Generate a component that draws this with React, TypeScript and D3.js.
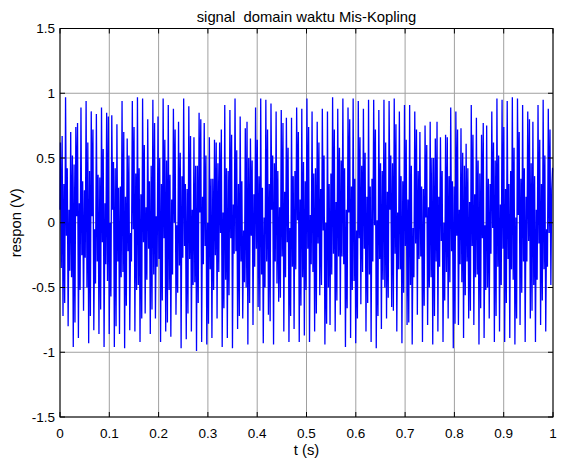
import React from "react";
import * as d3 from "d3";

const W = 562;
const H = 459;

const titleText = "signal  domain waktu Mis-Kopling";
const xLabelText = "t (s)";
const yLabelText = "respon (V)";

const xTicks = [0, 0.1, 0.2, 0.3, 0.4, 0.5, 0.6, 0.7, 0.8, 0.9, 1];
const xTickLabels = ["0", "0.1", "0.2", "0.3", "0.4", "0.5", "0.6", "0.7", "0.8", "0.9", "1"];
const yTicks = [-1.5, -1, -0.5, 0, 0.5, 1, 1.5];
const yTickLabels = ["-1.5", "-1", "-0.5", "0", "0.5", "1", "1.5"];

// estimated local maxima of each oscillation cycle (V)
const peaks = [
  0.62, 0.97, 0.70, 0.74, 0.89, 0.94, 0.86, 0.84, 0.89, 0.85, 0.83, 0.76, 0.94, 0.65, 0.94, 0.97,
  0.96, 0.80, 0.95, 0.82, 0.96, 0.91, 0.88, 0.78, 0.96, 0.90, 0.66, 0.85, 0.77, 0.66, 0.64, 0.62,
  0.91, 0.87, 0.96, 0.82, 0.73, 0.65, 0.89, 0.96, 0.95, 0.92, 0.86, 0.87, 0.81, 0.81, 0.89, 0.88,
  0.96, 0.86, 0.78, 0.88, 0.86, 0.97, 0.88, 0.96, 0.89, 0.96, 0.94, 0.88, 0.95, 0.95, 0.87, 0.95,
  0.94, 0.96, 0.86, 0.91, 0.91, 0.86, 0.70, 0.75, 0.78, 0.65, 0.66, 0.68, 0.89, 0.86, 0.73, 0.61,
  0.91, 0.81, 0.68, 0.75, 0.86, 0.96, 0.95, 0.94, 0.97, 0.96, 0.91, 0.86, 0.78, 0.91, 0.95, 0.88,
];

// estimated local minima of each oscillation cycle (V)
const troughs = [
  -0.72, -0.80, -0.96, -0.89, -0.68, -0.93, -0.83, -0.86, -0.96, -0.86, -0.96, -0.86, -0.97, -0.83, -0.84, -0.92,
  -0.70, -0.86, -0.74, -0.92, -0.84, -0.88, -0.71, -0.97, -0.90, -0.84, -0.99, -0.92, -0.94, -0.89, -0.74, -0.96,
  -0.89, -0.97, -0.82, -0.74, -0.94, -0.79, -0.65, -0.93, -0.71, -0.94, -0.61, -0.84, -0.92, -0.82, -0.92, -0.87,
  -0.92, -0.84, -0.56, -0.94, -0.79, -0.84, -0.71, -0.96, -0.89, -0.93, -0.63, -0.84, -0.92, -0.97, -0.82, -0.74,
  -0.65, -0.84, -0.93, -0.79, -0.94, -0.71, -0.92, -0.79, -0.94, -0.84, -0.92, -0.74, -0.97, -0.79, -0.89, -0.74,
  -0.79, -0.94, -0.89, -0.74, -0.92, -0.84, -0.92, -0.89, -0.94, -0.79, -0.92, -0.74, -0.92, -0.79, -0.84, -0.48,
];

// estimated dip on the falling edges (V)
const fallA = [
  -0.35, -0.1, -0.42, 0.05, -0.25, -0.5, 0.05, -0.3, -0.15, -0.45, 0.1, -0.3, -0.38, -0.22, -0.05, -0.48,
  -0.15, -0.2, -0.4, -0.28, -0.12, -0.52, 0.0, -0.33, -0.18, -0.28, -0.46, 0.08, -0.18, -0.36, -0.25, -0.08,
  -0.44, -0.12, -0.22, -0.3, -0.5, -0.1, -0.2, -0.4, -0.3, 0.1, -0.47, -0.26, -0.15, -0.34, 0.02, -0.42,
  -0.2, -0.38, -0.16, -0.06, -0.5, -0.24, -0.26, -0.32, 0.08, -0.45, -0.12, -0.2, -0.4, -0.02, -0.28, -0.5,
  0.1, -0.24, -0.36, -0.18, -0.48, -0.16, -0.26, 0.04, -0.42, -0.3, -0.14, -0.38, -0.22, -0.1, -0.46, -0.3,
  -0.18, -0.4, -0.12, -0.5, -0.04, -0.34, -0.2, -0.28, -0.44, 0.06, -0.3, -0.14, -0.48, -0.16, -0.36, -0.08,
];

// estimated secondary peak on the falling edges (V)
const fallB = [
  0.67, 0.42, 0.52, 0.77, 0.32, 0.62, 0.72, 0.37, 0.57, 0.82, 0.47, 0.27, 0.70, 0.52, 0.74, 0.42,
  0.60, 0.32, 0.77, 0.50, 0.64, 0.37, 0.72, 0.54, 0.30, 0.67, 0.44, 0.80, 0.52, 0.34, 0.62, 0.72,
  0.42, 0.68, 0.56, 0.32, 0.78, 0.48, 0.64, 0.27, 0.72, 0.52, 0.40, 0.77, 0.58, 0.36, 0.70, 0.47,
  0.74, 0.38, 0.62, 0.52, 0.30, 0.72, 0.58, 0.42, 0.80, 0.34, 0.66, 0.54, 0.28, 0.72, 0.46, 0.62,
  0.52, 0.76, 0.36, 0.64, 0.44, 0.72, 0.28, 0.60, 0.50, 0.78, 0.40, 0.66, 0.32, 0.72, 0.54, 0.42,
  0.68, 0.48, 0.77, 0.34, 0.62, 0.52, 0.74, 0.30, 0.58, 0.70, 0.42, 0.80, 0.36, 0.64, 0.52, 0.72,
];

// estimated bump on the rising edges (V)
const riseA = [
  0.3, 0.1, 0.45, 0.15, 0.25, 0.4, -0.05, 0.35, 0.15, 0.0, 0.42, 0.28, 0.2, -0.08, 0.38, 0.22,
  0.12, 0.44, 0.05, 0.3, 0.48, 0.18, -0.02, 0.36, 0.26, 0.1, 0.44, 0.2, 0.0, 0.34, 0.46, 0.08,
  0.4, 0.14, 0.3, -0.06, 0.5, 0.22, 0.36, 0.04, 0.3, 0.46, 0.12, 0.24, -0.04, 0.4, 0.18, 0.32,
  0.06, 0.42, 0.26, 0.0, 0.38, 0.16, 0.48, 0.1, 0.28, -0.06, 0.44, 0.2, 0.34, 0.02, 0.4, 0.24,
  0.46, 0.08, 0.32, 0.18, -0.04, 0.4, 0.26, 0.12, 0.5, 0.2, 0.0, 0.36, 0.28, 0.1, 0.44, 0.16,
  0.22, 0.38, -0.02, 0.3, 0.48, 0.14, 0.26, 0.4, 0.04, 0.34, 0.2, 0.46, 0.1, 0.3, -0.05, 0.25,
];

// estimated secondary trough on the rising edges (V)
const riseB = [
  -0.62, -0.37, -0.77, -0.52, -0.27, -0.72, -0.47, -0.67, -0.32, -0.57, -0.80, -0.42, -0.64, -0.30, -0.52, -0.74,
  -0.44, -0.67, -0.34, -0.60, -0.77, -0.40, -0.54, -0.27, -0.70, -0.48, -0.62, -0.32, -0.78, -0.52, -0.38, -0.66,
  -0.56, -0.24, -0.72, -0.46, -0.62, -0.34, -0.68, -0.50, -0.76, -0.30, -0.58, -0.42, -0.72, -0.36, -0.64, -0.52,
  -0.32, -0.70, -0.48, -0.78, -0.40, -0.60, -0.26, -0.66, -0.52, -0.74, -0.38, -0.62, -0.30, -0.72, -0.44, -0.58,
  -0.68, -0.36, -0.54, -0.77, -0.42, -0.28, -0.64, -0.50, -0.72, -0.34, -0.60, -0.46, -0.78, -0.32, -0.56, -0.68,
  -0.42, -0.66, -0.52, -0.24, -0.72, -0.48, -0.62, -0.36, -0.74, -0.54, -0.30, -0.68, -0.44, -0.60, -0.34, 0.42,
];

const startValue = 0.1;

export default function App() {
  const margin = { left: 60, right: 9, top: 28.5, bottom: 42 };
  const x0 = margin.left;
  const x1 = W - margin.right;
  const y0 = margin.top;
  const y1 = H - margin.bottom;

  const x = d3.scaleLinear().domain([0, 1]).range([x0, x1]);
  const y = d3.scaleLinear().domain([-1.5, 1.5]).range([y1, y0]);

  const n = peaks.length;
  const T = 1 / n;
  const series = [peaks, fallA, fallB, troughs, riseA, riseB];
  const pts: [number, number][] = [[0, startValue]];
  for (let i = 0; i < n; i++) {
    series.forEach((s, k) => {
      pts.push([(i + (k + 0.5) / 6) * T, s[i]]);
    });
  }
  pts.push([1, riseB[n - 1]]);
  const line = d3
    .line<[number, number]>()
    .x((d) => x(d[0]))
    .y((d) => y(d[1]));

  const font = "'Liberation Sans', Arial, sans-serif";
  const tickLen = 5;
  const fs = 13.5;
  const fsLabel = 14.8;

  return (
    <svg
      width={W}
      height={H}
      style={{ position: "fixed", left: 0, top: 0, background: "#fff" }}
      fontFamily={font}
    >
      <rect x={0} y={0} width={W} height={H} fill="#fff" />
      {xTicks.map((t, i) => (
        <line key={"gx" + i} x1={x(t)} x2={x(t)} y1={y0} y2={y1} stroke="#a0a0a0" strokeWidth={1} />
      ))}
      {yTicks.map((t, i) => (
        <line key={"gy" + i} x1={x0} x2={x1} y1={y(t)} y2={y(t)} stroke="#a0a0a0" strokeWidth={1} />
      ))}
      <path d={line(pts) || ""} fill="none" stroke="#0000ff" strokeWidth={1.3} />
      {xTicks.map((t, i) => (
        <g key={"tx" + i}>
          <line x1={x(t)} x2={x(t)} y1={y1} y2={y1 - tickLen} stroke="#000" />
          <line x1={x(t)} x2={x(t)} y1={y0} y2={y0 + tickLen} stroke="#000" />
          <text x={x(t)} y={438} textAnchor="middle" fontSize={fs} fill="#000">
            {xTickLabels[i]}
          </text>
        </g>
      ))}
      {yTicks.map((t, i) => (
        <g key={"ty" + i}>
          <line x1={x0} x2={x0 + tickLen} y1={y(t)} y2={y(t)} stroke="#000" />
          <line x1={x1} x2={x1 - tickLen} y1={y(t)} y2={y(t)} stroke="#000" />
          <text x={55} y={y(t)} dy="0.35em" textAnchor="end" fontSize={fs} fill="#000">
            {yTickLabels[i]}
          </text>
        </g>
      ))}
      <rect x={x0} y={y0} width={x1 - x0} height={y1 - y0} fill="none" stroke="#000" strokeWidth={1} />
      <text
        x={(x0 + x1) / 2}
        y={22}
        textAnchor="middle"
        fontSize={fsLabel}
        fill="#000"
        style={{ whiteSpace: "pre" }}
      >
        {titleText}
      </text>
      <text x={(x0 + x1) / 2} y={455} textAnchor="middle" fontSize={fsLabel} fill="#000">
        {xLabelText}
      </text>
      <text
        transform={`translate(21, ${(y0 + y1) / 2}) rotate(-90)`}
        textAnchor="middle"
        fontSize={fsLabel}
        fill="#000"
      >
        {yLabelText}
      </text>
    </svg>
  );
}
